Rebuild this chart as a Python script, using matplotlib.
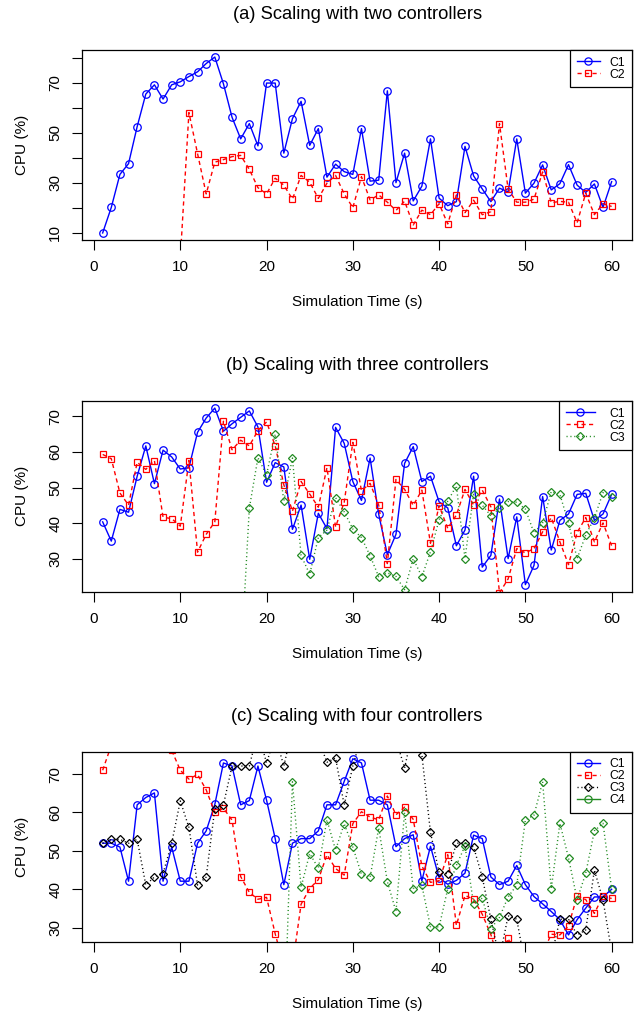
import matplotlib
matplotlib.use('Agg')
import matplotlib.pyplot as plt
from matplotlib.lines import Line2D

plt.rcParams['font.family'] = ['Liberation Sans', 'DejaVu Sans']

# ---------------- data ----------------
time = list(range(1, 61))

# (a) two controllers
a_c1 = [10.0, 20.2, 33.4, 37.7, 52.5, 65.5, 69.2, 63.5, 69.2, 70.4,
        72.5, 74.4, 77.7, 80.3, 69.6, 56.2, 47.6, 53.7, 44.8, 69.9,
        69.9, 41.9, 55.7, 62.6, 45.0, 51.7, 32.3, 37.5, 34.5, 33.4,
        51.7, 30.7, 31.1, 66.8, 30.1, 41.9, 22.8, 28.7, 47.6, 23.9,
        20.9, 22.5, 44.6, 32.8, 27.6, 22.5, 27.9, 26.4, 47.6, 25.9,
        29.9, 37.2, 27.2, 29.7, 37.3, 29.1, 26.2, 29.6, 20.2, 30.5]
a_c2_start = 10
a_c2 = [0.0, 58.1, 41.7, 25.6, 38.3, 39.3, 40.5, 41.0, 35.4, 28.1,
        25.6, 31.9, 29.1, 23.5, 33.0, 30.3, 23.8, 29.9, 33.0, 25.6,
        20.1, 32.5, 23.2, 25.2, 22.3, 19.0, 22.7, 13.2, 19.1, 17.3,
        21.7, 13.6, 25.2, 18.1, 23.1, 17.3, 18.5, 53.7, 27.5, 22.3,
        22.3, 23.5, 34.4, 22.1, 22.6, 22.3, 14.1, 25.9, 17.3, 21.7,
        20.6]

# (b) three controllers
b_c1 = [40.4, 35.0, 43.9, 43.1, 53.2, 61.7, 51.1, 60.5, 58.6, 55.2,
        55.6, 65.5, 69.5, 72.3, 65.8, 67.9, 69.7, 71.5, 67.0, 51.5,
        57.0, 55.8, 38.3, 45.1, 29.9, 42.8, 38.5, 66.9, 62.4, 51.7,
        46.4, 58.3, 42.5, 31.2, 36.9, 56.8, 61.5, 51.7, 53.2, 46.0,
        44.3, 33.7, 38.1, 53.2, 27.7, 31.0, 46.8, 30.1, 41.8, 22.8,
        28.2, 47.5, 32.5, 40.8, 42.6, 48.1, 48.4, 40.8, 42.6, 48.1]
b_c2 = [59.3, 58.1, 48.5, 45.1, 57.1, 55.1, 57.6, 41.7, 41.3, 39.2,
        57.6, 31.9, 36.9, 40.4, 68.6, 60.6, 63.3, 61.7, 66.0, 68.4,
        61.7, 50.8, 43.4, 51.7, 48.2, 44.5, 55.6, 39.0, 45.9, 62.7,
        49.1, 51.2, 45.1, 28.7, 52.3, 49.5, 45.0, 49.3, 34.4, 44.9,
        38.6, 42.3, 49.5, 45.1, 49.3, 44.6, 20.5, 24.4, 32.9, 31.7,
        32.9, 37.6, 41.6, 34.8, 28.4, 37.4, 41.6, 34.8, 40.1, 33.7]
b_c3_start = 17
b_c3 = [0.0, 44.2, 58.4, 53.6, 65.0, 46.2, 58.3, 31.0, 25.7, 36.0,
        38.1, 47.2, 43.2, 38.4, 36.0, 30.9, 25.0, 26.1, 25.1, 21.4,
        30.1, 25.0, 32.0, 41.0, 46.2, 50.5, 30.1, 48.1, 45.1, 42.1,
        44.2, 46.1, 45.9, 44.0, 37.3, 40.1, 48.9, 48.1, 40.1, 30.1,
        36.7, 41.5, 48.6, 47.5]

# (c) four controllers
c_c1 = [52.0, 52.0, 51.0, 42.1, 62.0, 63.9, 65.1, 42.1, 51.0, 42.1,
        42.1, 52.0, 55.2, 62.1, 72.9, 72.1, 62.0, 63.1, 72.1, 63.2,
        53.2, 41.2, 52.0, 53.2, 53.2, 55.2, 62.0, 62.0, 68.1, 74.0,
        72.9, 63.2, 63.2, 62.0, 51.1, 53.2, 54.2, 42.2, 51.2, 43.0,
        41.3, 42.3, 44.2, 54.1, 53.2, 43.2, 41.2, 42.1, 46.2, 41.2,
        38.1, 36.2, 34.2, 32.1, 28.1, 32.1, 35.1, 38.0, 38.0, 40.0]
c_c2 = [71.0, 77.5, 81.0, 84.0, 86.0, 84.0, 81.0, 79.0, 76.2, 71.0,
        68.7, 69.9, 65.9, 60.0, 61.1, 58.0, 43.3, 39.2, 37.4, 37.9,
        28.4, 20.0, 20.0, 36.1, 40.2, 42.5, 49.0, 45.4, 43.7, 57.1,
        60.2, 58.8, 58.1, 64.3, 59.4, 61.4, 58.2, 46.1, 41.8, 42.2,
        49.0, 30.6, 38.4, 37.4, 33.5, 28.2, 20.7, 27.2, 22.0, 20.0,
        21.0, 23.3, 28.3, 28.1, 30.4, 38.3, 37.3, 33.7, 38.3, 37.6]
c_c3 = [52.0, 53.0, 53.0, 52.0, 53.0, 41.1, 43.2, 44.1, 52.0, 63.0,
        56.1, 41.1, 43.2, 61.0, 62.0, 72.1, 72.1, 72.1, 81.0, 72.9,
        80.0, 72.1, 82.0, 86.0, 84.0, 79.0, 73.1, 74.2, 61.9, 72.1,
        80.0, 84.0, 83.0, 80.0, 79.0, 71.6, 82.0, 75.1, 54.8, 44.4,
        44.0, 52.0, 52.0, 51.0, 43.2, 32.2, 22.0, 33.1, 32.2, 20.0,
        18.0, 20.0, 22.2, 32.2, 32.2, 28.1, 29.4, 45.0, 37.2, 23.7]
c_c4_start = 22
c_c4 = [0.0, 68.0, 40.5, 49.3, 45.5, 58.1, 50.2, 57.1, 51.0, 43.9,
        43.1, 56.0, 42.0, 34.2, 60.0, 40.2, 41.0, 30.2, 30.2, 40.1,
        46.2, 51.3, 36.1, 37.7, 29.7, 32.7, 38.0, 41.1, 58.1, 59.3,
        68.0, 40.1, 57.2, 48.2, 37.3, 44.2, 55.2, 57.2, 40.1]

titles = ["(a) Scaling with two controllers",
          "(b) Scaling with three controllers",
          "(c) Scaling with four controllers"]
xlabel = "Simulation Time (s)"
ylabel = "CPU (%)"

# ---------------- styles ----------------
BLUE = '#0000FF'
RED = '#FF0000'
GREEN = '#228B22'
BLACK = '#000000'

STY = {
    'C1': dict(ls='-', marker='o', ms=5.4),
    'C2': dict(ls=(0, (3.0, 2.4)), marker='s', ms=4.8),
    'C3': dict(ls=(0, (0.8, 2.0)), marker='D', ms=4.2),
    'C4': dict(ls=(0, (0.8, 2.0)), marker='D', ms=4.2),
}

W, H = 642, 1015
fig = plt.figure(figsize=(W / 100, H / 100), dpi=100)

LEFT, RIGHT = 82.3, 632.0
panels_px = [(50.0, 240.0), (401.0, 591.7), (751.7, 942.0)]


def make_ax(top, bottom):
    return fig.add_axes([LEFT / W, 1 - bottom / H, (RIGHT - LEFT) / W, (bottom - top) / H])


def series(ax, x, y, key, color):
    st = STY[key]
    ax.plot(x, y, color=color, lw=1.0, ls=st['ls'], marker=st['marker'],
            ms=st['ms'], mfc='none', mec=color, mew=0.9)


def style_ax(ax, c1, yticks, ylabels, title):
    lo, hi = min(c1), max(c1)
    pad = 0.04 * (hi - lo)
    ax.set_ylim(lo - pad, hi + pad)
    xl, xh = min(time), max(time)
    xpad = 0.04 * (xh - xl)
    ax.set_xlim(xl - xpad, xh + xpad)
    ax.set_xticks(range(0, 61, 10))
    ax.set_yticks(yticks)
    ax.set_yticklabels(ylabels, rotation=90, va='center')
    ax.tick_params(direction='out', length=7.5, width=0.8, labelsize=11, pad=7)
    ax.tick_params(axis='y', pad=7)
    for s in ax.spines.values():
        s.set_linewidth(0.9)
    h_px = ax.get_position().height * H
    w_px = ax.get_position().width * W
    ax.set_xlabel(xlabel, fontsize=11, va='center')
    ax.xaxis.set_label_coords(0.5, -62 / h_px)
    ax.set_ylabel(ylabel, fontsize=11, va='center')
    ax.yaxis.set_label_coords(-60 / w_px, 0.5)
    ax.set_title(title, fontsize=13.2, y=1 + 35 / h_px, va='center', pad=0)


def legend(ax, entries, handlelength, textpad):
    handles = []
    for key, color, ls, mk in entries:
        handles.append(Line2D([], [], color=color, lw=1.0, ls=ls, marker=mk,
                              ms=STY[key]['ms'] if mk != 'o' else 5.2,
                              mfc='none', mec=color, mew=0.9))
    lg = ax.legend(handles, [e[0] for e in entries], loc='upper right',
                   borderaxespad=0, fancybox=False, framealpha=1,
                   edgecolor='black', fontsize=8.8, numpoints=1,
                   handlelength=handlelength, handletextpad=textpad,
                   labelspacing=0.0, borderpad=0.55)
    lg.get_frame().set_linewidth(0.9)


# ---- (a)
ax = make_ax(*panels_px[0])
series(ax, time, a_c1, 'C1', BLUE)
series(ax, time[a_c2_start - 1:], a_c2, 'C2', RED)
style_ax(ax, a_c1, list(range(10, 81, 10)),
         ['10', '', '30', '', '50', '', '70', ''], titles[0])
legend(ax, [('C1', BLUE, '-', 'o'), ('C2', RED, STY['C2']['ls'], 's')], 1.9, 0.8)

# ---- (b)
ax = make_ax(*panels_px[1])
series(ax, time, b_c1, 'C1', BLUE)
series(ax, time, b_c2, 'C2', RED)
series(ax, time[b_c3_start - 1:], b_c3, 'C3', GREEN)
style_ax(ax, b_c1, list(range(30, 71, 10)), ['30', '40', '50', '60', '70'], titles[1])
legend(ax, [('C1', BLUE, '-', 'o'), ('C2', RED, STY['C2']['ls'], 's'),
            ('C3', GREEN, STY['C3']['ls'], 'D')], 2.4, 1.2)

# ---- (c)
ax = make_ax(*panels_px[2])
series(ax, time, c_c1, 'C1', BLUE)
series(ax, time, c_c2, 'C2', RED)
series(ax, time, c_c3, 'C3', BLACK)
series(ax, time[c_c4_start - 1:], c_c4, 'C4', GREEN)
style_ax(ax, c_c1, list(range(30, 71, 10)), ['30', '40', '50', '60', '70'], titles[2])
legend(ax, [('C1', BLUE, '-', 'o'), ('C2', RED, STY['C2']['ls'], 's'),
            ('C3', BLACK, STY['C3']['ls'], 'D'), ('C4', GREEN, '-', 'o')], 1.9, 0.8)

fig.savefig('out.png', dpi=100)
